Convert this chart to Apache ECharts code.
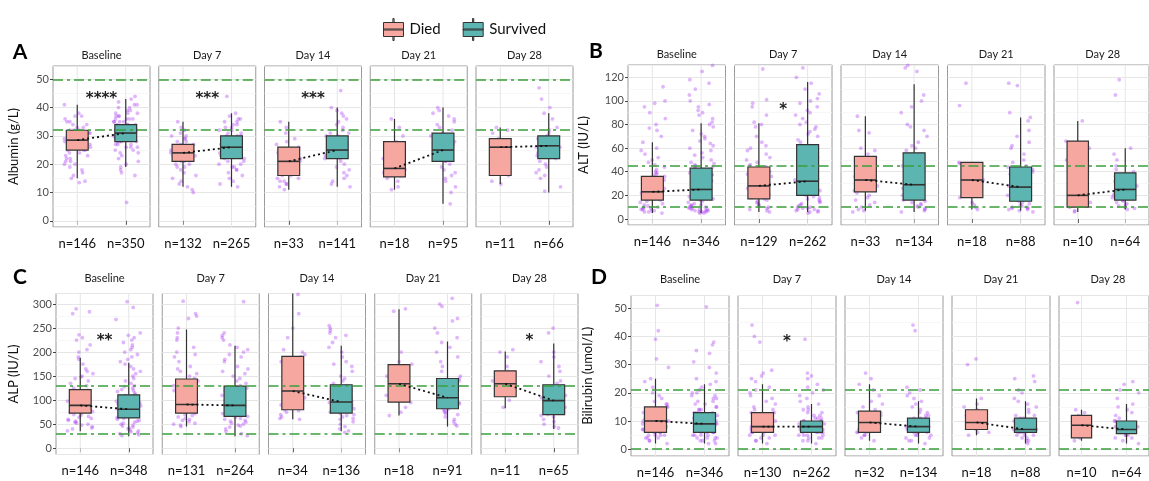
<!DOCTYPE html>
<html><head><meta charset="utf-8">
<script src="https://cdn.jsdelivr.net/npm/echarts@6/dist/echarts.min.js"></script>
<style>html,body{margin:0;padding:0;background:#fff}#c{width:1149px;height:481px}</style>
</head><body><div id="c"></div><script>
const facets = ['Baseline', 'Day 7', 'Day 14', 'Day 21', 'Day 28'];
const groups = ['Died', 'Survived'];

// ---------- Albumin (A) ----------
const albuminN = [[146, 350], [132, 265], [33, 141], [18, 95], [11, 66]];
const albuminDiedBox = [[15, 25, 28.5, 32, 41], [12, 21, 24, 27, 35], [11, 16, 21, 26, 35], [11, 15.5, 18.5, 28, 36], [13, 16, 26, 29, 33]];
const albuminSurvivedBox = [[19, 28, 31, 34, 43], [12, 22, 26, 30, 38], [12, 22, 25, 30, 40], [6, 21, 25, 31, 40], [10, 22, 26.5, 30, 38]];
const albuminStars = ['****', '***', '***', '', ''];
const albuminStarY = 44;
const albuminRef = [32, 50];
const albuminDiedPts = [
  [41,38,37,37,36,35,35,34,34,33,33,32,32,32,31,31,31,30,30,30,29,29,29,28,28,28,28,27,27,27,26,26,26,25,25,25,24,24,23,23,22,22,21,21,20,20,19,18,17,16,15,14,13.5],
  [35,33,32,31,30,30,29,29,28,28,27,27,26,26,26,25,25,25,24,24,24,23,23,23,22,22,22,21,21,20,20,19,19,18,17,16,15,14,13,12,11,10],
  [35,33,31,29,28,27,26,25,24,23,22,22,21,21,20,20,19,19,18,18,17,17,16,16,15,15,14,14,13,13,12,11],
  [36,33,30,28,27,25,24,22,20,19,18,17,16,16,15,14,12,11],
  [33,32,31,29,27,26,25,20,16,14,13]
];
const albuminSurvivedPts = [
  [44,43,42,41,41,40,40,39,39,38,38,38,37,37,37,36,36,36,36,35,35,35,35,34,34,34,34,33,33,33,33,33,32,32,32,32,32,31,31,31,31,31,30,30,30,30,30,29,29,29,29,28,28,28,28,27,27,27,26,26,26,25,25,24,24,23,22,21,20,19,18,17,16,6.5],
  [44,38,37,36,36,35,35,34,34,33,33,32,32,31,31,30,30,30,29,29,29,28,28,28,27,27,27,26,26,26,25,25,25,24,24,24,23,23,22,22,21,21,20,20,19,19,18,18,17,16,15,14,13,12],
  [46,40,39,38,37,36,35,34,33,32,31,31,30,30,29,29,28,28,27,27,26,26,25,25,25,24,24,23,23,22,22,21,20,19,18,17,16,15,14,13,12],
  [40,39,38,37,36,35,34,33,32,31,30,30,29,28,28,27,26,26,25,25,24,24,23,22,21,21,20,19,18,17,16,15,14,12,10,6],
  [47,43,40,38,36,33,32,31,30,29,28,27,27,26,26,25,24,23,22,21,20,19,18,17,16,15,12,10.5]
];

// ---------- ALT (B) ----------
const altN = [[146, 346], [129, 262], [33, 134], [18, 88], [10, 64]];
const altDiedBox = [[5, 16, 23, 36, 65], [6, 17, 28, 44, 81], [7, 23, 33, 53, 87], [8, 18, 33, 48, 48], [6, 10, 20, 66, 83]];
const altSurvivedBox = [[5, 16, 25, 43, 81], [6, 20, 32, 63, 116], [6, 16, 29, 56, 114], [7, 15, 27, 44, 86], [8, 16, 25, 39, 60]];
const altStars = ['', '*', '', '', ''];
const altStarY = 95;
const altRef = [10, 45];
const altDiedPts = [
  [112,100,98,95,90,85,80,77,75,70,65,60,58,55,52,50,48,46,44,42,40,39,38,37,36,35,34,33,32,31,30,29,28,27,26,25,24,23,22,21,20,19,18,17,16,15,14,13,12,11,10,10,9,9,8,8,7,7,6,6,5],
  [127,101,98,95,88,82,80,78,70,65,62,60,58,55,52,50,48,46,45,44,42,40,38,36,34,32,30,29,28,27,26,25,24,23,22,21,20,19,18,17,16,15,14,13,12,11,10,9,8,7,6],
  [87,75,73,60,58,55,52,50,48,45,42,40,38,36,34,33,32,30,28,26,25,24,22,20,18,16,14,12,10,8,7,6],
  [115,96,48,47,45,40,35,33,32,30,25,22,20,18,14,12,10,8],
  [83,66,60,50,30,20,14,10,7,6]
];
const altSurvivedPts = [
  [130,125,118,115,110,105,100,97,95,92,90,88,85,82,80,78,75,72,70,68,66,64,62,60,58,56,54,52,50,48,47,46,45,44,43,42,41,40,39,38,37,36,35,34,33,32,31,30,29,28,27,26,25,24,23,22,21,20,19,18,17,16,15,14,13,12,12,11,11,10,10,9,9,8,8,8,7,7,7,6,6,6,5,5],
  [128,120,115,110,106,102,100,98,95,92,90,88,85,82,80,78,76,74,72,70,67,65,62,60,58,56,54,52,50,48,46,44,42,40,38,36,35,34,33,32,31,30,29,28,27,26,25,24,23,22,21,20,19,18,17,16,15,14,13,12,11,10,10,9,9,8,8,7,7,6,6,5],
  [130,128,125,105,100,95,90,80,78,75,70,65,62,60,58,55,52,50,48,45,42,40,38,35,32,30,28,26,24,22,20,18,16,15,14,13,12,11,10,9,8,7,6],
  [115,113,90,86,83,75,70,65,62,60,55,50,48,45,44,42,40,38,35,32,30,28,27,25,22,20,18,16,15,14,13,12,11,10,10,9,9,8,8,7,6],
  [118,105,60,55,50,45,42,40,38,36,34,32,30,28,26,25,24,22,20,18,17,16,15,14,13,12,11,10,9,8]
];

// ---------- ALP (C) ----------
const alpN = [[146, 348], [131, 264], [34, 136], [18, 91], [11, 65]];
const alpDiedBox = [[35, 73, 89, 122, 188], [45, 73, 91, 144, 247], [60, 80, 119, 191, 330], [68, 96, 134, 174, 289], [83, 107, 134, 161, 201]];
const alpSurvivedBox = [[25, 63, 81, 111, 178], [25, 66, 89, 129, 213], [35, 73, 96, 132, 213], [45, 82, 105, 145, 222], [40, 70, 99, 132, 218]];
const alpStars = ['**', '', '', '', '*'];
const alpStarY = 230;
const alpRef = [30, 130];
const alpDiedPts = [
  [290,284,280,236,230,225,215,205,200,190,185,175,165,160,155,150,148,145,140,135,130,125,120,118,115,112,110,108,105,102,100,98,95,92,90,88,86,84,82,80,78,76,74,72,70,68,66,64,62,60,58,56,54,52,50,48,45,42,40,36],
  [306,280,275,270,250,240,230,225,210,200,195,190,180,170,165,160,155,150,145,140,135,130,125,120,115,110,105,100,98,95,92,90,88,85,82,80,78,75,72,70,68,65,62,60,58,55,52,50,48,45],
  [320,280,250,230,205,200,195,190,180,170,160,150,140,130,125,120,118,115,110,105,100,95,90,85,80,78,75,70,65,62,60],
  [290,285,200,180,175,160,150,140,135,130,125,120,110,100,95,85,75,68],
  [205,200,190,170,160,140,134,120,110,100,85]
];
const alpSurvivedPts = [
  [305,293,268,240,235,230,225,220,215,210,205,200,195,190,185,180,175,170,165,160,155,150,145,140,135,130,128,125,122,120,118,115,112,110,108,105,102,100,98,96,94,92,90,88,86,84,82,80,78,76,74,72,70,68,66,64,62,60,58,56,54,52,50,48,46,44,42,40,38,36,34,32,30,28,26],
  [305,240,235,230,225,215,210,205,200,195,190,185,180,170,165,160,155,150,145,140,135,130,128,125,122,120,115,110,105,100,98,95,92,90,88,86,84,82,80,78,76,74,72,70,68,66,64,62,60,58,56,54,52,50,48,46,44,40,35,30,26],
  [255,250,245,240,235,230,220,210,200,190,180,175,170,160,150,145,140,135,130,125,120,115,110,105,100,98,95,92,90,88,85,82,80,78,75,72,70,68,65,62,60,55,50,45,40,36,33],
  [312,300,295,270,265,250,240,230,220,210,200,190,180,170,160,150,145,140,135,130,125,120,115,110,105,100,98,95,92,90,88,85,82,80,78,75,72,70,65,60,55,50,46],
  [250,240,200,190,180,170,160,150,140,135,130,125,120,115,110,105,100,98,95,90,85,80,75,70,68,65,60,55,50,45,42]
];

// ---------- Bilirubin (D) ----------
const biliN = [[146, 346], [130, 262], [32, 134], [18, 88], [10, 64]];
const biliDiedBox = [[2, 6, 10, 15, 25], [2, 6, 8, 13, 23], [3, 6, 9.5, 13.5, 23], [5, 7, 9.5, 14, 18], [3, 4, 8.5, 12, 14]];
const biliSurvivedBox = [[2, 6, 9, 13, 23], [2, 6, 8, 10, 16], [2, 6, 8, 11, 17], [2, 6, 7, 11, 17], [2, 5.5, 7, 10, 16]];
const biliStars = ['', '*', '', '', ''];
const biliStarY = 39;
const biliRef = [0, 21];
const biliDiedPts = [
  [51,42,39,32,29,25,24,22,20,19,18,17,16,16,15,15,14,14,13,13,12,12,12,11,11,11,10,10,10,10,9,9,9,9,8,8,8,8,7,7,7,7,6,6,6,6,5,5,5,5,4,4,4,3,3,2],
  [44,40,38,28,27,26,25,24,22,21,20,19,18,17,16,15,14,14,13,13,12,12,11,11,10,10,10,9,9,9,8,8,8,8,7,7,7,7,6,6,6,5,5,5,4,4,3,3,2],
  [27,25,23,21,19,17,16,15,14,13,13,12,12,11,11,10,10,9,9,9,8,8,7,7,6,6,6,5,5,4,3],
  [32,30,18,16,15,14,13,12,11,10,10,9,9,8,7,6,6,5],
  [52,14,13,12,10,9,8,6,4,3]
];
const biliSurvivedPts = [
  [50.5,38,37,35,34,31,29,27,25,24,23,22,21,20,20,19,19,18,18,17,17,16,16,15,15,14,14,14,13,13,13,12,12,12,12,11,11,11,11,10,10,10,10,10,9,9,9,9,9,8,8,8,8,8,7,7,7,7,7,6,6,6,6,6,5,5,5,5,4,4,4,4,3,3,3,2,2],
  [39,27,26,25,23,22,21,20,19,18,17,16,15,14,14,13,13,12,12,11,11,11,10,10,10,10,9,9,9,9,9,8,8,8,8,8,8,7,7,7,7,7,6,6,6,6,6,5,5,5,5,4,4,4,3,3,2],
  [44,42,22,21,20,19,18,17,16,15,14,13,13,12,12,11,11,11,10,10,10,9,9,9,9,8,8,8,8,8,7,7,7,7,6,6,6,6,5,5,5,4,4,3,3,2],
  [26,25,24,21,20,18,17,16,15,14,13,12,12,11,11,10,10,9,9,9,8,8,8,7,7,7,7,6,6,6,6,5,5,5,4,4,3,3,2],
  [24,23,21,20,18,16,15,14,13,12,11,10,10,9,9,8,8,8,7,7,7,7,6,6,6,5,5,5,4,4,3,2]
];

const FONT = 'Lato, "Open Sans", sans-serif';
const DIED_COLOR = '#f6a8a0';
const SURV_COLOR = '#5db5b1';

const panels = [
  { letter: 'A', yName: 'Albumin (g/L)', n: albuminN, died: albuminDiedBox, surv: albuminSurvivedBox, diedPts: albuminDiedPts, survPts: albuminSurvivedPts, stars: albuminStars, starY: albuminStarY, ref: albuminRef,
    yMin: -2.2, yMax: 54.7, left: 53, pitch: 105.75, width: 97, top: 66, height: 161, nameGap: 33, lx: 20, ly: 52, stripGap: 11 },
  { letter: 'B', yName: 'ALT (IU/L)', n: altN, died: altDiedBox, surv: altSurvivedBox, diedPts: altDiedPts, survPts: altSurvivedPts, stars: altStars, starY: altStarY, ref: altRef,
    yMin: -5.1, yMax: 130.4, left: 628, pitch: 106.5, width: 97.5, top: 65, height: 160, nameGap: 38, lx: 596, ly: 51, stripGap: 11 },
  { letter: 'C', yName: 'ALP (IU/L)', n: alpN, died: alpDiedBox, surv: alpSurvivedBox, diedPts: alpDiedPts, survPts: alpSurvivedPts, stars: alpStars, starY: alpStarY, ref: alpRef,
    yMin: -13.2, yMax: 322, left: 56, pitch: 106.25, width: 97, top: 293.5, height: 161, nameGap: 36, lx: 20, ly: 277, stripGap: 15 },
  { letter: 'D', yName: 'Bilirubin (umol/L)', n: biliN, died: biliDiedBox, surv: biliSurvivedBox, diedPts: biliDiedPts, survPts: biliSurvivedPts, stars: biliStars, starY: biliStarY, ref: biliRef,
    yMin: -2.4, yMax: 54.5, left: 631, pitch: 107, width: 98, top: 295.5, height: 160.5, nameGap: 37, lx: 599, ly: 277, stripGap: 16 }
];

function renderBox(params, api) {
  const cat = api.value(0);
  const low = api.coord([cat, api.value(1)]);
  const q1 = api.coord([cat, api.value(2)]);
  const med = api.coord([cat, api.value(3)]);
  const q3 = api.coord([cat, api.value(4)]);
  const high = api.coord([cat, api.value(5)]);
  const band = api.size([1, 0])[0];
  const hw = band * 0.225;
  const x = med[0];
  const fill = api.visual('color');
  const ln = { stroke: '#333', lineWidth: 1.2 };
  return { type: 'group', children: [
    { type: 'line', shape: { x1: x, y1: high[1], x2: x, y2: q3[1] }, style: ln },
    { type: 'line', shape: { x1: x, y1: q1[1], x2: x, y2: low[1] }, style: ln },
    { type: 'rect', shape: { x: x - hw, y: q3[1], width: 2 * hw, height: q1[1] - q3[1] }, style: { fill: fill, stroke: '#333', lineWidth: 1.2 } },
    { type: 'line', shape: { x1: x - hw, y1: med[1], x2: x + hw, y2: med[1] }, style: { stroke: '#333', lineWidth: 1.6 } }
  ] };
}
function renderVGrid(params, api) {
  const x = api.coord([api.value(0), api.value(1)])[0];
  const cs = params.coordSys;
  return { type: 'line', shape: { x1: x, y1: cs.y, x2: x, y2: cs.y + cs.height }, style: { stroke: '#e6e6e6', lineWidth: 1 } };
}
function makeStarRenderer(text) {
  return function (params, api) {
    const y = api.value(1);
    const a = api.coord([0, y]);
    const b = api.coord([1, y]);
    return { type: 'text', style: { text: text, x: (a[0] + b[0]) / 2, y: a[1] + 3, textAlign: 'center', textVerticalAlign: 'middle', font: 'bold 15px "DejaVu Sans", sans-serif', fill: '#222' } };
  };
}

const grid = [], xAxis = [], yAxis = [], series = [], graphic = [];

panels.forEach(function (p, pi) {
  graphic.push({ type: 'text', style: { text: p.letter, x: p.lx, y: p.ly, textAlign: 'center', textVerticalAlign: 'middle', font: 'bold 21px ' + FONT, fill: '#000' } });
  facets.forEach(function (fname, fi) {
    const gi = pi * 5 + fi;
    const left = p.left + fi * p.pitch;
    grid.push({ left: left, top: p.top, width: p.width, height: p.height, show: true, borderColor: '#9a9a9a', borderWidth: 1, backgroundColor: '#fff', containLabel: false });
    graphic.push({ type: 'text', style: { text: fname, x: left + p.width / 2, y: p.top - p.stripGap, textAlign: 'center', textVerticalAlign: 'middle', font: '11px ' + FONT, fill: '#1a1a1a' } });
    const nArr = p.n[fi];
    xAxis.push({
      type: 'category', gridIndex: gi, data: groups, boundaryGap: true,
      jitter: 26, jitterOverlap: true,
      axisLine: { show: false },
      axisTick: { show: true, alignWithLabel: true, interval: 0, length: 4, lineStyle: { color: '#333', width: 1 } },
      axisLabel: { interval: 0, hideOverlap: false, fontSize: 13, color: '#111', fontFamily: FONT, margin: 10, formatter: function (v, i) { return 'n=' + nArr[i]; } },
      splitLine: { show: false }
    });
    yAxis.push({
      type: 'value', gridIndex: gi, min: p.yMin, max: p.yMax, splitNumber: 6,
      name: fi === 0 ? p.yName : '', nameLocation: 'middle', nameGap: p.nameGap,
      nameTextStyle: { fontSize: 13, color: '#111', fontFamily: FONT },
      axisLine: { show: false },
      axisTick: { show: fi === 0, length: 3, lineStyle: { color: '#444' } },
      axisLabel: { show: fi === 0, fontSize: 11, color: '#4d4d4d', fontFamily: FONT, margin: 4, showMinLabel: false, showMaxLabel: false },
      splitLine: { show: true, lineStyle: { color: '#e6e6e6', width: 1 } },
      minorTick: { show: false, splitNumber: 2 },
      minorSplitLine: { show: true, lineStyle: { color: '#f3f3f3', width: 0.7 } }
    });
    series.push({ type: 'custom', xAxisIndex: gi, yAxisIndex: gi, silent: true, z: 1, renderItem: renderVGrid,
      encode: { x: 0, y: 1 }, data: [[0, 0], [1, 0]] });
    const pts = p.diedPts[fi].map(function (v) { return [0, v]; }).concat(p.survPts[fi].map(function (v) { return [1, v]; }));
    series.push({ type: 'scatter', xAxisIndex: gi, yAxisIndex: gi, silent: true, z: 2, symbolSize: 3.8,
      itemStyle: { color: '#a020f0', opacity: 0.32 }, data: pts });
    series.push({ name: 'Died', type: 'custom', xAxisIndex: gi, yAxisIndex: gi, z: 3, silent: true, clip: true,
      itemStyle: { color: DIED_COLOR }, renderItem: renderBox, encode: { x: 0, y: [1, 2, 3, 4, 5] },
      data: [[0].concat(p.died[fi])] });
    series.push({ name: 'Survived', type: 'custom', xAxisIndex: gi, yAxisIndex: gi, z: 3, silent: true, clip: true,
      itemStyle: { color: SURV_COLOR }, renderItem: renderBox, encode: { x: 0, y: [1, 2, 3, 4, 5] },
      data: [[1].concat(p.surv[fi])] });
    series.push({ type: 'line', xAxisIndex: gi, yAxisIndex: gi, z: 5, silent: true, symbol: 'none',
      lineStyle: { type: [2, 3], color: '#111', width: 1.8 },
      data: [[0, p.died[fi][2]], [1, p.surv[fi][2]]],
      markLine: { silent: true, symbol: ['none', 'none'], label: { show: false },
        lineStyle: { color: '#3a9e3a', type: [10, 4, 3, 4], width: 1.6 },
        data: p.ref.map(function (v) { return { yAxis: v }; }) } });
    if (p.stars[fi]) {
      series.push({ type: 'custom', xAxisIndex: gi, yAxisIndex: gi, z: 6, silent: true,
        renderItem: makeStarRenderer(p.stars[fi]), encode: { x: 0, y: 1 }, data: [[0, p.starY]] });
    }
  });
});

const chart = echarts.init(document.getElementById('c'), null, { renderer: 'canvas' });
chart.setOption({
  animation: false,
  backgroundColor: '#fff',
  textStyle: { fontFamily: FONT },
  legend: {
    data: ['Died', 'Survived'], left: 378, top: 13, itemWidth: 22, itemHeight: 22, itemGap: 22,
    icon: 'path://M10.4 0H11.6V4H10.4Z M1 4H21V18H1Z M10.4 18H11.6V22H10.4Z M1 10.5H21V11.5H1Z',
    itemStyle: { borderColor: '#333', borderWidth: 1 },
    textStyle: { fontSize: 15, color: '#111', fontFamily: FONT }, selectedMode: false
  },
  grid: grid, xAxis: xAxis, yAxis: yAxis, series: series, graphic: graphic
});
</script></body></html>
